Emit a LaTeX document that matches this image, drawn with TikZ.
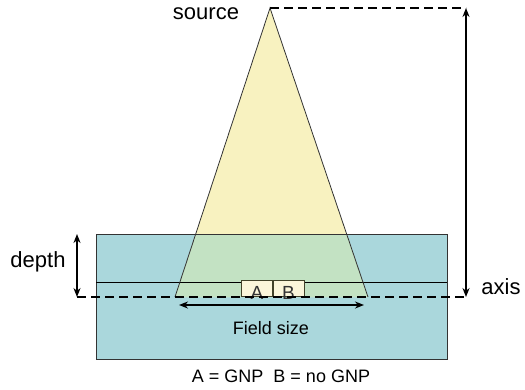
\documentclass[tikz,border=0pt]{standalone}
\usepackage{fontspec}
\setmainfont{Liberation Sans}
\usetikzlibrary{arrows.meta}
\definecolor{water}{HTML}{AAD7DC}
\definecolor{beam}{HTML}{F8F2C0}
\definecolor{overlap}{HTML}{C3E2C3}
\definecolor{gnp}{HTML}{FBF6DA}
\definecolor{edge}{HTML}{333333}
\begin{document}
\begin{tikzpicture}[x=1pt,y=-1pt,
  lbl/.style={inner sep=0pt,font=\fontsize{22}{24}\selectfont},
  small/.style={inner sep=0pt,font=\fontsize{18}{20}\selectfont},
  dimarrow/.style={line width=2.2pt,{Stealth[length=9pt,width=7pt]}-{Stealth[length=9pt,width=7pt]}},
  axisline/.style={line width=2.8pt,dash pattern=on 9pt off 5pt},
  cell/.style={draw=edge!80!olive,fill=gnp,line width=0.7pt,minimum width=31pt,minimum height=16pt,inner sep=0pt,anchor=south west,font=\fontsize{19}{19}\selectfont},
  celltxt/.style={inner sep=0pt,anchor=base,font=\fontsize{19}{19}\selectfont,text=edge}]
\useasboundingbox (0,0) rectangle (525,389);
% key points
\coordinate (apex) at (270,8);
\coordinate (bl) at (175,297);
\coordinate (br) at (368,297);
\coordinate (wtl) at (96,234);
\coordinate (wbr) at (447,359);
\coordinate (tr) at (466,8);
\coordinate (axr) at (466,297);
\coordinate (axl) at (77,297);
\coordinate (dtop) at (77,234);
% water
\fill[water] (wtl) rectangle (wbr);
% beam above water
\fill[beam] (apex) -- (bl) -- (br) -- cycle;
% overlap in water
\begin{scope}
\clip (96,234) rectangle (447,297);
\fill[overlap] (apex) -- (bl) -- (br) -- cycle;
\end{scope}
\draw[edge,line width=0.8pt] (wtl) rectangle (wbr);
\draw[black,line width=0.8pt] (96,282) -- (447,282);
\draw[edge,line width=0.8pt] (bl) -- (apex) -- (br);
% A / B cells
\node[cell] (A) at (241,297) {};
\node[cell] (B) at (A.south east) {};
\node[celltxt] (Atxt) at ([yshift=-2pt]A.south) {A};
\node[celltxt] (Btxt) at ([yshift=-2pt]B.south) {B};
% axis dashed line
\draw[axisline] (axl) -- (axr);
\draw[axisline] (apex) -- (tr);
% SSD arrow
\draw[dimarrow] (axr) -- (tr);
% depth arrow
\draw[dimarrow] (dtop) -- (axl);
% field size arrow
\coordinate (fl) at (179,305);
\coordinate (fr) at (364,305);
\draw[dimarrow] (fl) -- (fr);
% labels
\node[lbl] (source) at (206,14) {source};
\node[lbl] (depth) at (38,262) {depth};
\node[lbl] (axis) at (501,287) {axis};
\node[small] (field) at (271,328) {Field size};
\node[small] (caption) at (281,376) {A = GNP\ \ B = no GNP};
\end{tikzpicture}
\end{document}
